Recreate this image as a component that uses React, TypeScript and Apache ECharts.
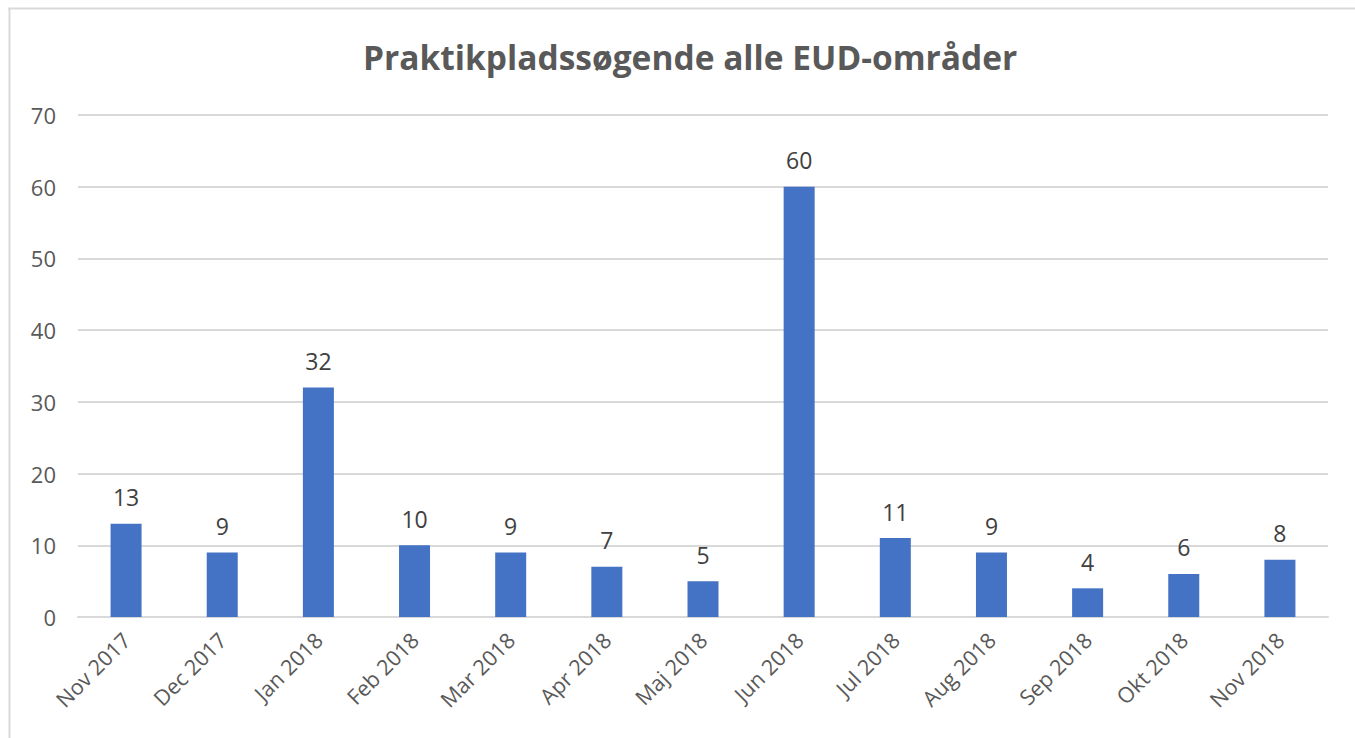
import React, { useEffect, useRef } from "react";
import * as echarts from "echarts";

const titleText = "Praktikpladssøgende alle EUD-områder";
const categories = [
  "Nov 2017", "Dec 2017", "Jan 2018", "Feb 2018", "Mar 2018", "Apr 2018",
  "Maj 2018", "Jun 2018", "Jul 2018", "Aug 2018", "Sep 2018", "Okt 2018", "Nov 2018",
];
const values = [13, 9, 32, 10, 9, 7, 5, 60, 11, 9, 4, 6, 8];
const yMin = 0;
const yMax = 70;
const yInterval = 10;

const FONT = "'Open Sans', 'Noto Sans', sans-serif";

export default function App() {
  const ref = useRef<HTMLDivElement>(null);
  useEffect(() => {
    if (!ref.current) return;
    const chart = echarts.init(ref.current, null, { renderer: "svg" });
    chart.setOption({
      animation: false,
      backgroundColor: "#ffffff",
      title: {
        text: titleText,
        left: 358,
        top: 35,
        textStyle: { fontFamily: FONT, fontSize: 33.5, fontWeight: "bold", color: "#595959" },
      },
      graphic: [
        { type: "line", shape: { x1: 8, y1: 8.5, x2: 1355, y2: 8.5 }, style: { stroke: "#d9d9d9", lineWidth: 2 } },
        { type: "line", shape: { x1: 9.5, y1: 8, x2: 9.5, y2: 738 }, style: { stroke: "#d9d9d9", lineWidth: 2 } },
      ],
      grid: { left: 78, right: 27, top: 115, bottom: 121, containLabel: false },
      xAxis: {
        type: "category",
        data: categories,
        axisLine: { show: true, lineStyle: { color: "#d9d9d9", width: 2 } },
        axisTick: { show: false },
        axisLabel: {
          rotate: 45,
          interval: 0,
          margin: 19,
          fontFamily: FONT,
          fontSize: 21.5,
          color: "#595959",
        },
      },
      yAxis: {
        type: "value",
        min: yMin,
        max: yMax,
        interval: yInterval,
        axisLine: { show: false },
        axisTick: { show: false },
        splitLine: { lineStyle: { color: "#d9d9d9", width: 2 } },
        axisLabel: { fontFamily: FONT, fontSize: 22, color: "#595959", margin: 22 },
      },
      series: [
        {
          type: "bar",
          data: values,
          barWidth: 31,
          itemStyle: { color: "#4472C4" },
          label: {
            show: true,
            position: "top",
            distance: 15,
            fontFamily: FONT,
            fontSize: 23,
            color: "#404040",
          },
        },
      ],
    });
    return () => chart.dispose();
  }, []);
  return (
    <div
      ref={ref}
      style={{ position: "fixed", left: 0, top: 0, width: 1355, height: 738 }}
    />
  );
}
